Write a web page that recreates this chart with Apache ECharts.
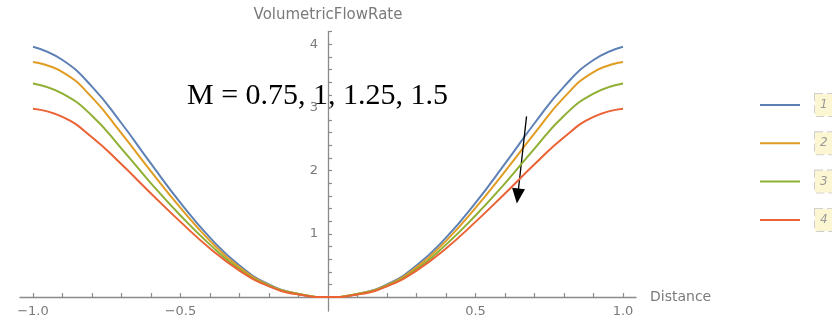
<!DOCTYPE html>
<html>
<head>
<meta charset="utf-8">
<script src="https://cdn.jsdelivr.net/npm/echarts@6/dist/echarts.min.js"></script>
<style>
html,body{margin:0;padding:0;background:#fff;}
#c{width:832px;height:322px;}
</style>
</head>
<body>
<div id="c"></div>
<script>
// Distance values
const distance = [-1.0,-0.9,-0.8,-0.7,-0.6,-0.5,-0.4,-0.3,-0.2,-0.1,0,0.1,0.2,0.3,0.4,0.5,0.6,0.7,0.8,0.9,1.0];
// VolumetricFlowRate for each M
const flow1 = [3.96,3.75,3.33,2.75,2.11,1.49,0.94,0.50,0.20,0.05,0,0.05,0.20,0.50,0.94,1.49,2.11,2.75,3.33,3.75,3.96];
const flow2 = [3.72,3.56,3.16,2.59,1.99,1.41,0.89,0.47,0.19,0.05,0,0.05,0.19,0.47,0.89,1.41,1.99,2.59,3.16,3.56,3.72];
const flow3 = [3.38,3.22,2.87,2.35,1.80,1.29,0.83,0.44,0.18,0.05,0,0.05,0.18,0.44,0.83,1.29,1.80,2.35,2.87,3.22,3.38];
const flow4 = [2.98,2.85,2.53,2.10,1.64,1.19,0.77,0.42,0.17,0.04,0,0.04,0.17,0.42,0.77,1.19,1.64,2.10,2.53,2.85,2.98];
const seriesNames = ['1','2','3','4'];
const colors = ['#5E81B5','#E19C24','#8FB032','#EB6235'];
const xLabelValues = [-1.0,-0.5,0.5,1.0];
const xTickValues = [-1.0,-0.9,-0.8,-0.7,-0.6,-0.5,-0.4,-0.3,-0.2,-0.1,0.1,0.2,0.3,0.4,0.5,0.6,0.7,0.8,0.9,1.0];
const yLabelValues = [1,2,3,4];
const yTickValues = [0.2,0.4,0.6,0.8,1.0,1.2,1.4,1.6,1.8,2.0,2.2,2.4,2.6,2.8,3.0,3.2,3.4,3.6,3.8,4.0,4.2];
const annotationText = 'M = 0.75, 1, 1.25, 1.5';
const arrowStart = [0.673, 2.86];
const arrowEnd = [0.643, 1.60];

const flows = [flow1, flow2, flow3, flow4];
const axisGray = '#8a8a8a';
const labelGray = '#7a7a7a';

const X_MIN = -1.044, X_MAX = 1.044, Y_MIN = -0.22, Y_MAX = 4.2;
const G_LEFT = 20, G_RIGHT = 196, G_TOP = 31.6, G_BOTTOM = 11;
const W = 832, H = 322;
// shift axes so they cross at the origin
const gw = W - G_LEFT - G_RIGHT, gh = H - G_TOP - G_BOTTOM;
const yAxisOffset = -(0 - X_MIN) / (X_MAX - X_MIN) * gw;
const xAxisOffset = -(0 - Y_MIN) / (Y_MAX - Y_MIN) * gh;

const chart = echarts.init(document.getElementById('c'), null, {renderer:'canvas'});
const series = flows.map((f, i) => ({
  name: seriesNames[i],
  type: 'line',
  data: distance.map((d, j) => [d, f[j]]),
  smooth: 0.5,
  showSymbol: false,
  symbol: 'none',
  lineStyle: {color: colors[i], width: 2},
  itemStyle: {color: colors[i]},
  z: 3 + i,
  markLine: i === 0 ? {
    silent: true,
    animation: false,
    symbol: ['none','triangle'],
    symbolSize: [13, 15],
    label: {show: false},
    lineStyle: {color: '#000', width: 1.3, type: 'solid'},
    data: [[{coord: arrowStart}, {coord: arrowEnd}]]
  } : undefined
}));

chart.setOption({
  animation: false,
  backgroundColor: '#fff',
  grid: {left: G_LEFT, right: G_RIGHT, top: G_TOP, bottom: G_BOTTOM, containLabel: false},
  xAxis: {
    type: 'value', min: X_MIN, max: X_MAX, offset: xAxisOffset,
    name: 'Distance', nameLocation: 'end', nameGap: 14,
    nameTextStyle: {color: labelGray, fontFamily: 'DejaVu Sans', fontSize: 14, verticalAlign: 'middle'},
    axisLine: {onZero: false, lineStyle: {color: axisGray, width: 1.3}},
    axisTick: {show: true, inside: true, length: 4, customValues: xTickValues, lineStyle: {color: axisGray, width: 1.2}},
    axisLabel: {show: true, customValues: xLabelValues, margin: 8, color: labelGray, fontFamily: 'DejaVu Sans', fontSize: 13,
      formatter: v => (v < 0 ? '\u2212' : '') + Math.abs(v).toFixed(1)},
    splitLine: {show: false}
  },
  yAxis: {
    type: 'value', min: Y_MIN, max: Y_MAX, offset: yAxisOffset,
    name: 'VolumetricFlowRate', nameLocation: 'end', nameGap: 16,
    nameTextStyle: {color: labelGray, fontFamily: 'DejaVu Sans', fontSize: 15, verticalAlign: 'middle', align: 'center'},
    axisLine: {onZero: false, lineStyle: {color: axisGray, width: 1.3}},
    axisTick: {show: true, inside: true, length: 4, customValues: yTickValues, lineStyle: {color: axisGray, width: 1.2}},
    axisLabel: {show: true, customValues: yLabelValues, margin: 10, color: labelGray, fontFamily: 'DejaVu Sans', fontSize: 13},
    splitLine: {show: false}
  },
  legend: {
    orient: 'vertical', left: 760, top: 93, itemGap: 14.3, padding: 0,
    itemWidth: 40, itemHeight: 2, icon: 'rect',
    data: seriesNames.map((n, i) => ({name: n, itemStyle: {color: colors[i]}})),
    formatter: n => '{g|}{b|' + n + '}',
    selectedMode: false,
    textStyle: {
      rich: {
        g: {width: 10},
        b: {backgroundColor: '#fdf6d2', borderColor: '#cfcfcf', borderWidth: 1, borderType: 'dashed',
            padding: [5, 5, 5, 5], lineHeight: 14, fontSize: 12, fontStyle: 'italic',
            fontFamily: 'DejaVu Sans', color: '#9a9a9a'}
      }
    }
  },
  graphic: [{
    type: 'group', z: 100,
    children: [
      {type: 'rect', shape: {x: 182, y: 66, width: 270, height: 61}, style: {fill: '#fff'}},
      {type: 'text', x: 187, y: 96, style: {text: annotationText, font: '30px "Liberation Serif"', fill: '#000', verticalAlign: 'middle', align: 'left'}}
    ]
  }],
  series: series
});
</script>
</body>
</html>
